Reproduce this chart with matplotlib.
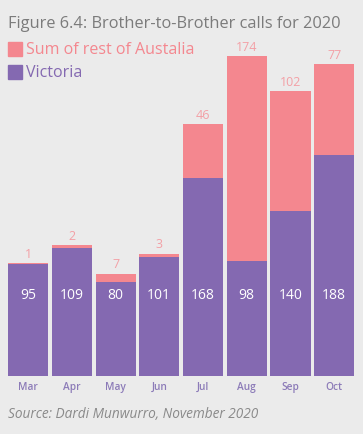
import numpy as np
import matplotlib
matplotlib.use("Agg")
import matplotlib.pyplot as plt
from matplotlib.patches import Rectangle

months = ["Mar", "Apr", "May", "Jun", "Jul", "Aug", "Sep", "Oct"]
victoria = [95, 109, 80, 101, 168, 98, 140, 188]
rest = [1, 2, 7, 3, 46, 174, 102, 77]

BG = "#ebebeb"
PURPLE = "#8469b1"
PINK = "#f4878f"
FONT = "Open Sans"

fig = plt.figure(figsize=(3.63, 4.35), dpi=100, facecolor=BG)
ax = fig.add_axes([0.017, 0.1333, 0.964, 0.811])
ax.set_facecolor(BG)

x = np.arange(len(months))
vic = np.array(victoria)
rst = np.array(rest)
ax.bar(x, vic, width=0.915, color=PURPLE)
ax.bar(x, rst, bottom=vic, width=0.915, color=PINK)

for i in range(len(months)):
    ax.text(x[i], 69, str(vic[i]), ha="center", va="center", color="white",
            fontsize=10, family=FONT)
    ax.text(x[i], vic[i] + rst[i] + 3, str(rst[i]), ha="center", va="bottom",
            color="#f3a0a6", fontsize=9, family=FONT)
    ax.text(x[i], -9, months[i], ha="center", va="center", color="#8c7bb8",
            fontsize=7.3, family=FONT, fontweight="semibold")

ax.set_xlim(-0.5, 7.5)
ax.set_ylim(0, 300)
ax.axis("off")

fig.text(0.022, 0.945, "Figure 6.4: Brother-to-Brother calls for 2020", color="#7b7b7b",
         fontsize=11.8, family=FONT, va="center")
fig.patches.append(Rectangle((0.022, 0.869), 0.039, 0.032, transform=fig.transFigure,
                             color=PINK, figure=fig))
fig.patches.append(Rectangle((0.022, 0.816), 0.039, 0.032, transform=fig.transFigure,
                             color=PURPLE, figure=fig))
fig.text(0.072, 0.885, "Sum of rest of Austalia", color=PINK, fontsize=11.5,
         family=FONT, va="center")
fig.text(0.072, 0.832, "Victoria", color=PURPLE, fontsize=11.5,
         family=FONT, va="center")
fig.text(0.022, 0.048, "Source: Dardi Munwurro, November 2020", color="#8a8a8a",
         fontsize=9.8, family=FONT, style="italic", va="center")

fig.savefig("out.png", facecolor=BG)
